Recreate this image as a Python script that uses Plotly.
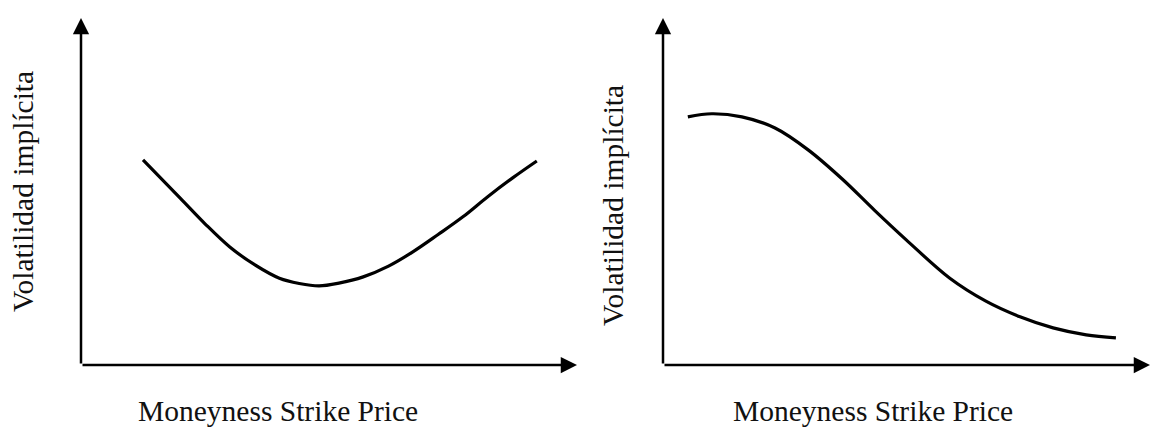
import plotly.graph_objects as go

# Left panel: volatility smile (x: moneyness, y: implied vol), axis range 0-10
smile_x = [1.25, 2.00, 2.50, 3.00, 3.50, 4.00, 4.40, 4.80, 5.20, 5.69, 6.20, 6.69,
           7.20, 7.70, 8.20, 8.71, 9.19]
smile_y = [5.91, 4.81, 4.07, 3.40, 2.89, 2.50, 2.35, 2.28, 2.36, 2.54, 2.85, 3.26,
           3.76, 4.27, 4.85, 5.40, 5.88]

# Right panel: volatility skew
skew_x = [0.51, 1.00, 1.62, 2.30, 2.98, 3.68, 4.35, 5.00, 5.89, 6.63, 7.33, 8.01, 8.69, 9.30]
skew_y = [7.15, 7.24, 7.15, 6.83, 6.20, 5.36, 4.45, 3.60, 2.50, 1.84, 1.39, 1.07, 0.87, 0.78]

x_title = "Moneyness Strike Price"
y_title = "Volatilidad implícita"

W, H = 1153, 428
FONT = "Liberation Serif, Times New Roman, serif"

fig = go.Figure()
fig.add_trace(go.Scatter(x=smile_x, y=smile_y, mode="lines", xaxis="x", yaxis="y",
                         line=dict(color="black", width=3.2, shape="spline", smoothing=1.0),
                         showlegend=False, hoverinfo="skip"))
fig.add_trace(go.Scatter(x=skew_x, y=skew_y, mode="lines", xaxis="x2", yaxis="y2",
                         line=dict(color="black", width=3.2, shape="spline", smoothing=1.0),
                         showlegend=False, hoverinfo="skip"))

ydom = [(H - 365) / H, (H - 18) / H]
ax_common = dict(visible=False, range=[0, 10], fixedrange=True)
fig.update_layout(
    width=W, height=H,
    margin=dict(l=0, r=0, t=0, b=0),
    paper_bgcolor="white", plot_bgcolor="white",
    xaxis=dict(domain=[81 / W, 577 / W], anchor="y", **ax_common),
    yaxis=dict(domain=ydom, anchor="x", **ax_common),
    xaxis2=dict(domain=[663 / W, 1150 / W], anchor="y2", **ax_common),
    yaxis2=dict(domain=ydom, anchor="x2", **ax_common),
    showlegend=False,
)

anns = []
for xr, yr in (("x", "y"), ("x2", "y2")):
    # x-axis arrow
    anns.append(dict(x=10, y=0, ax=0, ay=0, xref=xr, yref=yr, axref=xr, ayref=yr,
                     text="", showarrow=True, arrowhead=2, arrowsize=1.3,
                     arrowwidth=2.5, arrowcolor="black"))
    # y-axis arrow
    anns.append(dict(x=0, y=10, ax=0, ay=0, xref=xr, yref=yr, axref=xr, ayref=yr,
                     text="", showarrow=True, arrowhead=2, arrowsize=1.3,
                     arrowwidth=2.5, arrowcolor="black"))

# axis titles
for cx in (278, 873):
    anns.append(dict(x=cx / W, y=(H - 411) / H, xref="paper", yref="paper",
                     text=x_title, showarrow=False, xanchor="center", yanchor="middle",
                     font=dict(family=FONT, size=29.5, color="#111")))
for cx, cy in ((23, 192), (613, 205)):
    anns.append(dict(x=cx / W, y=(H - cy) / H, xref="paper", yref="paper",
                     text=y_title, showarrow=False, textangle=-90,
                     xanchor="center", yanchor="middle",
                     font=dict(family=FONT, size=29.5, color="#111")))

fig.update_layout(annotations=anns)
fig.write_html("out.html", config={"displayModeBar": False, "staticPlot": True},
               post_script="document.body.style.margin='0';document.body.style.overflow='hidden';")
